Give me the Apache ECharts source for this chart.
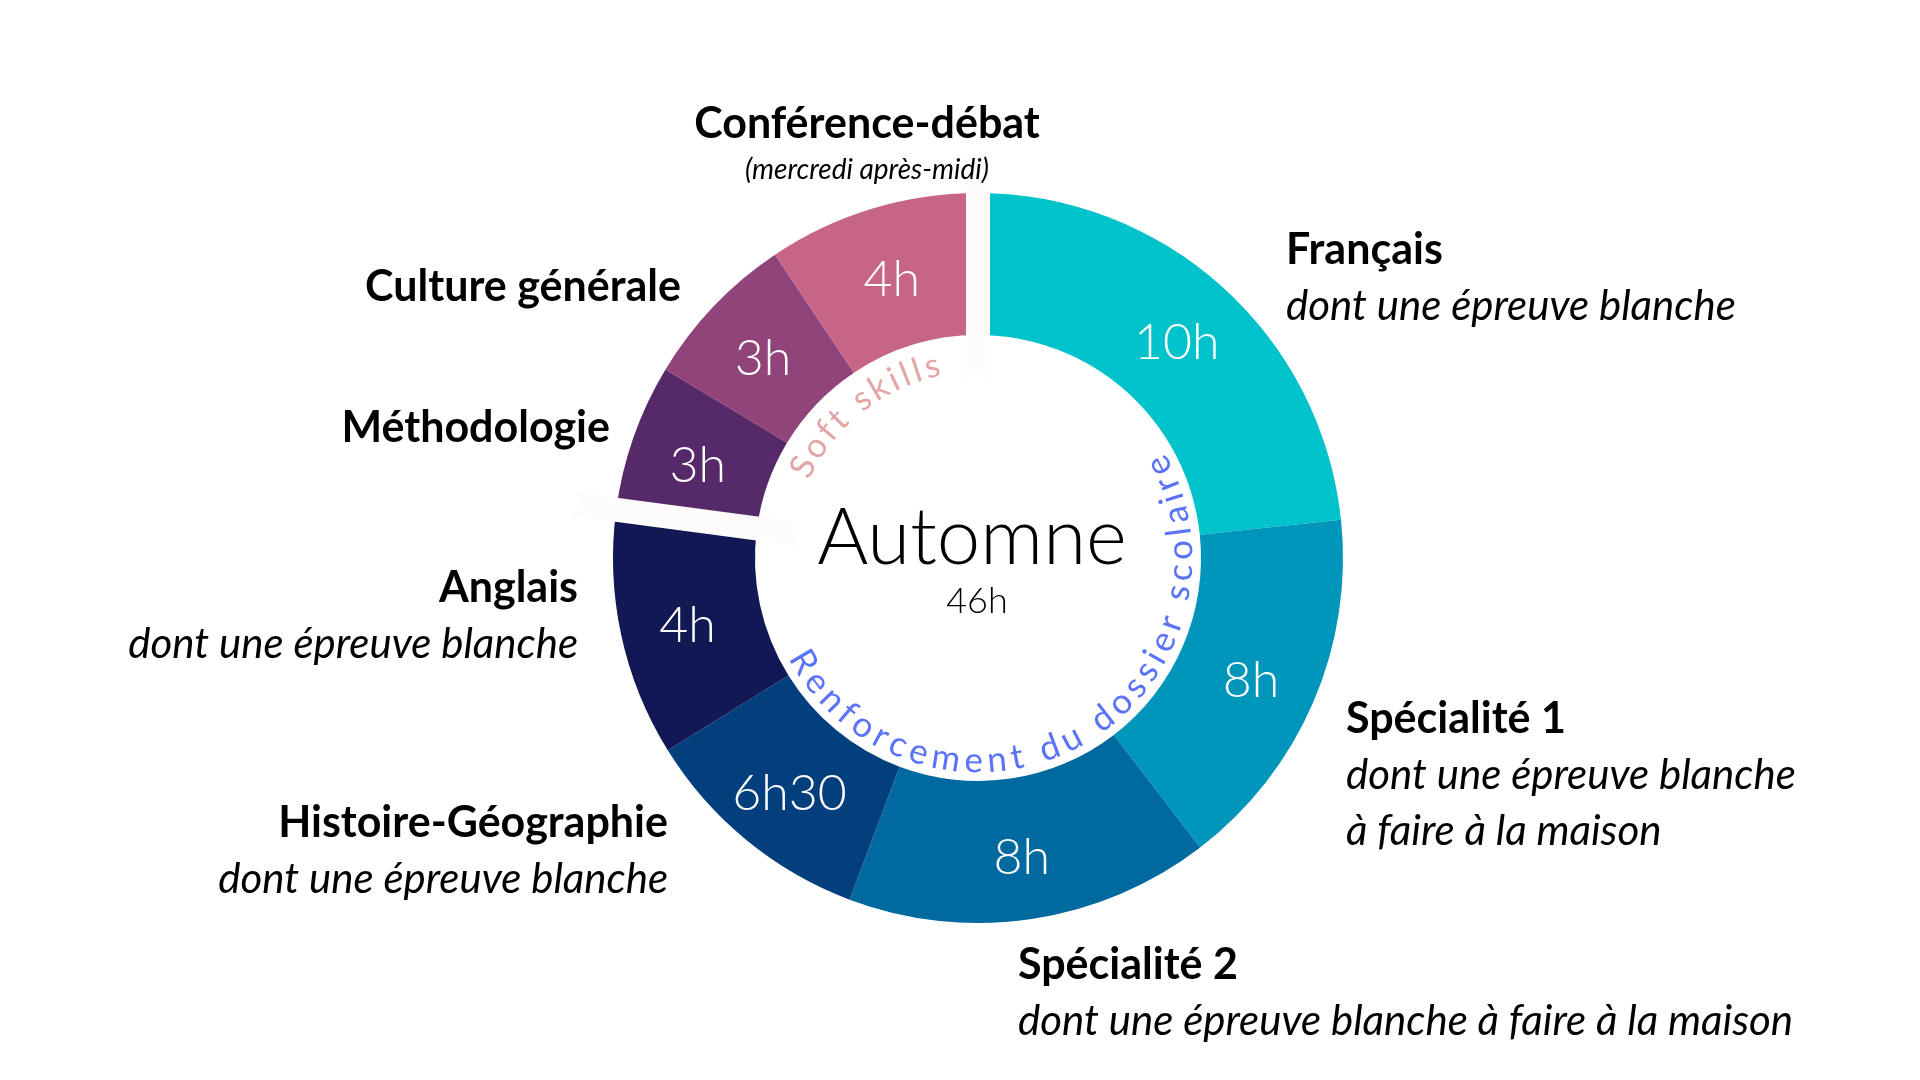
<!DOCTYPE html>
<html>
<head>
<meta charset="utf-8">
<title>Automne</title>
<script src="https://cdn.jsdelivr.net/npm/echarts@6/dist/echarts.min.js"></script>
<style>
    html, body { margin: 0; padding: 0; background: #fff; }
    #chart { width: 1920px; height: 1080px; }
</style>
</head>
<body>
<div id="chart"></div>
<script>
    // matières, dans le sens horaire depuis le haut
    const subjects = ['Français', 'Spécialité 1', 'Spécialité 2', 'Histoire-Géographie', 'Anglais', 'Méthodologie', 'Culture générale', 'Conférence-débat']
    const hourLabels = ['10h', '8h', '8h', '6h30', '4h', '3h', '3h', '4h']
    // taille des parts telle que dessinée (degrés de l'anneau)
    const sliceDegrees = [84, 58.5, 58.1, 37.6, 39.4, 23.5, 25.1, 33.8]
    const notes = [
        ['dont une épreuve blanche'],
        ['dont une épreuve blanche', 'à faire à la maison'],
        ['dont une épreuve blanche à faire à la maison'],
        ['dont une épreuve blanche'],
        ['dont une épreuve blanche'],
        [],
        [],
        ['(mercredi après-midi)']
    ]
    const seasonLabel = 'Automne'
    const totalLabel = '46h'
    // groupes : texte courbe + dernière matière du groupe
    const groupTitles = ['Renforcement du dossier scolaire', 'Soft skills']
    const groupLast = [4, 7]

    const colors = ['#00c2cb', '#0096bb', '#0069a0', '#033f7d', '#121853', '#562968', '#90447a', '#c76586']

    // mise en page
    const cx = 978, cy = 558, r0 = 223, r1 = 365
    const labelPos = [
        {x: 1286, y: 250, align: 'left'},
        {x: 1346, y: 719, align: 'left'},
        {x: 1018, y: 965, align: 'left'},
        {x: 668, y: 823, align: 'right'},
        {x: 578, y: 588, align: 'right'},
        {x: 610, y: 428, align: 'right'},
        {x: 681, y: 287, align: 'right'},
        {x: 867, y: 124, align: 'center'}
    ]

    const rad = d => d * Math.PI / 180
    const measure = document.createElement('canvas').getContext('2d')

    // une lettre par élément, posée le long d'un arc
    function arcText(text, fromDeg, toDeg, r, size, color, inward) {
        measure.font = '400 ' + size + 'px Lato'
        const chars = Array.from(text)
        const w = chars.map(c => measure.measureText(c).width)
        const natural = w.reduce((a, b) => a + b, 0) - (w[0] + w[w.length - 1]) / 2
        const len = Math.abs(toDeg - fromDeg) * Math.PI / 180 * r
        const extra = (len - natural) / (chars.length - 1)
        const dir = toDeg > fromDeg ? 1 : -1
        let p = 0
        return chars.map((c, i) => {
            if (i > 0) p += (w[i - 1] + w[i]) / 2 + extra
            const th = rad(fromDeg) + dir * p / r
            return {
                type: 'text', z: 100, silent: true,
                x: cx + r * Math.sin(th), y: cy - r * Math.cos(th),
                rotation: inward ? Math.PI - th : -th,
                style: {text: c, fill: color, fontSize: size, fontFamily: 'Lato', fontWeight: 400, align: 'center', verticalAlign: 'middle'}
            }
        })
    }

    // bande blanche (ruban) qui sépare les groupes
    function ribbon(deg) {
        const th = rad(deg), a = 178, b = 408, h = 12, n = 9
        const pt = (r, o) => [cx + r * Math.sin(th) + o * Math.cos(th), cy - r * Math.cos(th) + o * Math.sin(th)]
        return {
            type: 'polygon', z: 90, silent: true,
            shape: {points: [pt(a, -h), pt(a + n, 0), pt(a, h), pt(b, h), pt(b - n, 0), pt(b, -h)]},
            style: {fill: '#fdfcfa'}
        }
    }

    let graphics = []
    // séparateurs, calculés depuis les parts
    let acc = 0
    const ends = sliceDegrees.map(v => (acc += v))
    groupLast.forEach(i => graphics.push(ribbon(ends[i])))

    // étiquettes extérieures
    subjects.forEach((name, i) => {
        const pos = labelPos[i]
        graphics.push({
            type: 'text', z: 100, silent: true, x: pos.x, y: pos.y,
            style: {text: name, fill: '#000', fontSize: 43, fontWeight: 'bold', fontFamily: 'Lato', align: pos.align, verticalAlign: 'middle'}
        })
        const small = i === 7
        notes[i].forEach((line, k) => {
            graphics.push({
                type: 'text', z: 100, silent: true, x: pos.x, y: pos.y + (small ? 46 : 56) * (k + 1),
                style: {text: line, fill: '#000', fontSize: small ? 28 : 42, fontStyle: 'italic', fontWeight: 400, fontFamily: 'Lato', align: pos.align, verticalAlign: 'middle'}
            })
        })
    })

    // centre
    graphics.push({
        type: 'text', z: 100, silent: true, x: 972, y: 539,
        style: {text: seasonLabel, fill: '#000', fontSize: 78, fontWeight: 300, fontFamily: 'Lato', align: 'center', verticalAlign: 'middle'}
    })
    graphics.push({
        type: 'text', z: 100, silent: true, x: 977, y: 601,
        style: {text: totalLabel, fill: '#000', fontSize: 36, fontWeight: 300, fontFamily: 'Lato', align: 'center', verticalAlign: 'middle'}
    })

    // textes courbes des groupes
    graphics = graphics.concat(arcText(groupTitles[0], 239.2, 63.1, 203, 35, '#5b73fa', true))
    graphics = graphics.concat(arcText(groupTitles[1], 297.5, 346.5, 197, 34, '#e3a5a6', false))

    const myChart = echarts.init(document.getElementById('chart'))
    myChart.setOption({
        backgroundColor: '#ffffff',
        animation: false,
        color: colors,
        series: [{
            type: 'pie',
            center: [cx, cy],
            radius: [r0, r1],
            startAngle: 90,
            clockwise: true,
            avoidLabelOverlap: false,
            silent: true,
            itemStyle: {borderWidth: 0},
            label: {
                show: true,
                position: 'inside',
                formatter: p => hourLabels[p.dataIndex],
                color: '#fff',
                fontSize: 50,
                fontWeight: 300,
                fontFamily: 'Lato'
            },
            labelLayout: {dy: 6},
            labelLine: {show: false},
            data: subjects.map((name, i) => ({name: name, value: sliceDegrees[i]}))
        }],
        graphic: graphics
    })
</script>
</body>
</html>
